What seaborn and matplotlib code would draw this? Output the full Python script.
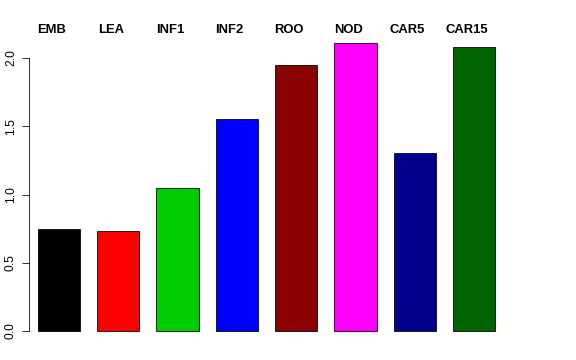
import numpy as np
import matplotlib
matplotlib.use("Agg")
import matplotlib.pyplot as plt
import seaborn as sns
import pandas as pd

# values
groups = ["EMB", "LEA", "INF1", "INF2", "ROO", "NOD", "CAR5", "CAR15"]
values = [0.747, 0.73, 1.048, 1.553, 1.949, 2.112, 1.304, 2.079]
colors = ["#000000", "#FF0000", "#00CD00", "#0000FF",
          "#8B0000", "#FF00FF", "#00008B", "#006400"]
yticks = [0.0, 0.5, 1.0, 1.5, 2.0]

sns.set_style("white")
plt.rcParams['font.family'] = ['Liberation Sans', 'DejaVu Sans']
plt.rcParams['text.color'] = 'black'
plt.rcParams['ytick.color'] = 'black'
plt.rcParams['ytick.labelcolor'] = 'black'

W, H = 576, 360
fig = plt.figure(figsize=(W / 72, H / 72), dpi=72)

# place axes so bar centres / zero line land where the reference has them
px_left, px_right, px_top, px_bot = 29, 560, 10, 345
ax = fig.add_axes([px_left / W, (H - px_bot) / H,
                   (px_right - px_left) / W, (px_bot - px_top) / H])

df = pd.DataFrame({"group": groups, "value": values})
sns.barplot(data=df, x="group", y="value", hue="group", palette=colors,
            width=0.714, edgecolor="black", linewidth=0.8,
            legend=False, saturation=1, ax=ax)

pitch = 59.3      # px per category
unit = 136.5      # px per y unit
zero_px = 331
ax.set_xlim((px_left - 59) / pitch, (px_right - 59) / pitch)
ax.set_ylim((zero_px - px_bot) / unit, (zero_px - px_top) / unit)

# group names sit a little left of the bar centres in the original
for i, g in enumerate(groups):
    ax.text(i - 7.5 / pitch, (zero_px - 30) / unit, g, ha="center",
            va="center", fontsize=13, fontweight="bold", color="black")

ax.set_xticks([])
ax.set_xlabel("")
ax.set_ylabel("")
ax.set_yticks(yticks)
ax.set_yticklabels(["%.1f" % t for t in yticks], rotation=90,
                   va="center", fontsize=12, color="black")
ax.tick_params(axis="y", left=True, length=7, width=0.8, pad=5)
for s in ["top", "right", "bottom"]:
    ax.spines[s].set_visible(False)
ax.spines["left"].set_bounds(0, 2.0)
ax.spines["left"].set_linewidth(0.8)
ax.spines["left"].set_color("black")

fig.savefig("out.png", dpi=72)
